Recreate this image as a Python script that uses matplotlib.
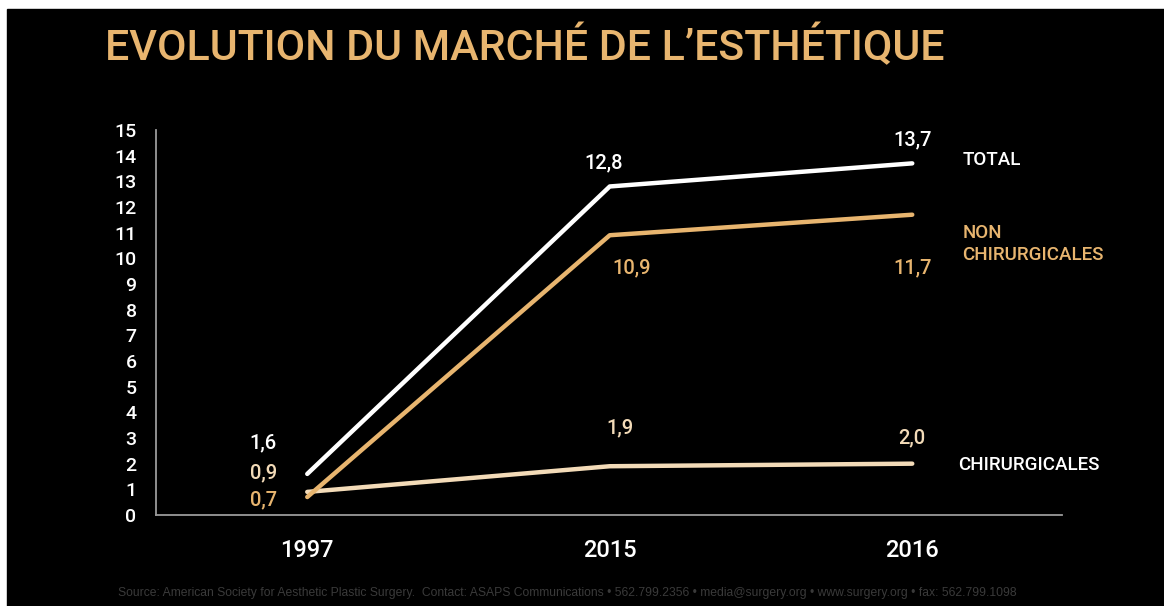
import matplotlib
matplotlib.use("Agg")
import matplotlib.pyplot as plt
from matplotlib.patches import Rectangle

# data
years = ["1997", "2015", "2016"]
total = [1.6, 12.8, 13.7]
non_chir = [0.7, 10.9, 11.7]
chir = [0.9, 1.9, 2.0]
yticks = list(range(0, 16))

GOLD = "#E8B56F"
PALE = "#F3DBB8"
WHITE = "#FFFFFF"
AXIS = "#9A9A9A"

plt.rcParams["font.family"] = ["Roboto", "DejaVu Sans"]
plt.rcParams["font.weight"] = "medium"


def fmt(v):
    return ("%.1f" % v).replace(".", ",")


def label_series(ax, vals, offsets, color):
    for i, (v, off) in enumerate(zip(vals, offsets)):
        ax.annotate(fmt(v), (i, v), xytext=off, textcoords="offset pixels",
                    ha="center", va="center", color=color, fontsize=14.5)


fig = plt.figure(figsize=(11.64, 6.06), dpi=100, facecolor="white")
fig.patches.append(Rectangle((7 / 1164, 0), 1, 1 - 9 / 606,
                             transform=fig.transFigure, color="black",
                             zorder=-10))

ax = fig.add_axes([156 / 1164, 1 - 515 / 606, 906 / 1164, 385 / 606])
ax.set_facecolor("none")

x = range(len(years))
ax.plot(x, chir, color=PALE, lw=3.2, solid_capstyle="round")
ax.plot(x, non_chir, color=GOLD, lw=3.2, solid_capstyle="round")
ax.plot(x, total, color=WHITE, lw=3.2, solid_capstyle="round")

label_series(ax, total, [(-44, 31), (-6, 24), (0, 23)], WHITE)
label_series(ax, non_chir, [(-44, -3), (22, -33), (0, -53)], GOLD)
label_series(ax, chir, [(-44, 19), (10, 38), (0, 26)], PALE)

# series names on the right
ax.annotate("TOTAL", (2, total[2]), xytext=(50, 3), textcoords="offset pixels",
            ha="left", va="center", color=WHITE, fontsize=13.5)
ax.annotate("NON\nCHIRURGICALES", (2, non_chir[2]), xytext=(50, -29),
            textcoords="offset pixels", ha="left", va="center", color=GOLD,
            fontsize=13.5, linespacing=1.3)
ax.annotate("CHIRURGICALES", (2, chir[2]), xytext=(46, -1),
            textcoords="offset pixels", ha="left", va="center", color=WHITE,
            fontsize=13.5)

ax.set_xlim(-0.5, 2.495)
ax.set_ylim(0, 15)
ax.set_xticks(list(x))
ax.set_xticklabels(years, fontsize=17, color=WHITE)
ax.set_yticks(yticks)
ax.set_yticklabels([str(t) for t in yticks], fontsize=14, color=WHITE)
ax.tick_params(axis="both", length=0)
ax.tick_params(axis="y", pad=14)
ax.tick_params(axis="x", pad=17)
for s in ["top", "right"]:
    ax.spines[s].set_visible(False)
for s in ["left", "bottom"]:
    ax.spines[s].set_color(AXIS)
    ax.spines[s].set_linewidth(1.3)

fig.text(105 / 1164, 1 - 47 / 606, "EVOLUTION DU MARCHÉ DE L\u2019ESTHÉTIQUE",
         color=GOLD, fontsize=30.9, ha="left", va="center")

fig.text(567 / 1164, 1 - 593 / 606,
         "Source: American Society for Aesthetic Plastic Surgery.  Contact: ASAPS "
         "Communications \u2022 562.799.2356 \u2022 media@surgery.org \u2022 "
         "www.surgery.org \u2022 fax: 562.799.1098",
         color="#3A3A3A", fontsize=8.7, ha="center", va="center",
         weight="normal", family=["Liberation Sans", "DejaVu Sans"])

fig.savefig("out.png", dpi=100, facecolor=fig.get_facecolor())
